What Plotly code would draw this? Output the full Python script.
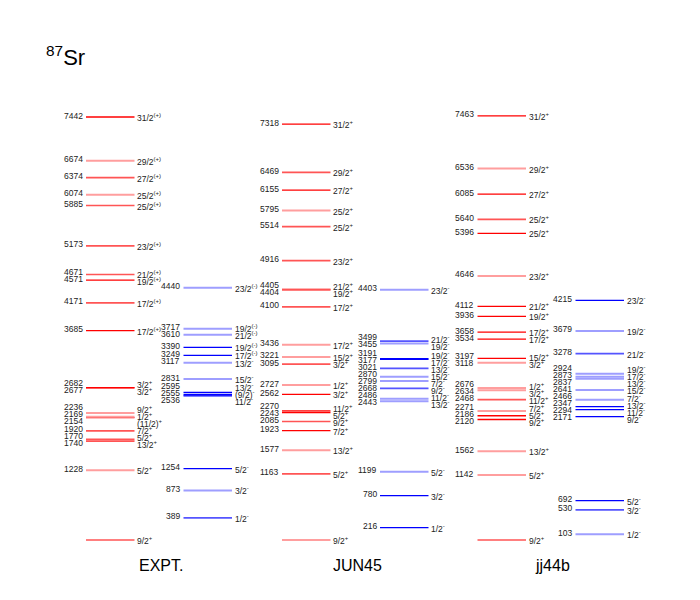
import plotly.graph_objects as go

# ---------------- data ----------------
nucleus_mass = "87"
nucleus_symbol = "Sr"
column_names = ["EXPT.", "JUN45", "jj44b"]

expt_pos_E = [7442, 6674, 6374, 6074, 5885, 5173, 4671, 4571, 4171, 3685, 2682, 2677,
              2236, 2169, 2154, 1920, 1770, 1740, 1228, 0]
expt_pos_J = ["31/2", "29/2", "27/2", "25/2", "25/2", "23/2", "21/2", "19/2", "17/2", "17/2",
              "3/2", "3/2", "9/2", "1/2", "(11/2)", "7/2", "5/2", "13/2", "5/2", "9/2"]
expt_pos_P = ["(+)"] * 10 + ["+"] * 10

expt_neg_E = [4440, 3717, 3610, 3390, 3249, 3117, 2831, 2595, 2555, 2536, 1254, 873, 389]
expt_neg_J = ["23/2", "19/2", "21/2", "19/2", "17/2", "13/2", "15/2", "13/2", "(9/2)", "11/2",
              "5/2", "3/2", "1/2"]
expt_neg_P = ["(-)"] * 5 + ["-"] * 8

jun_pos_E = [7318, 6469, 6155, 5795, 5514, 4916, 4405, 4404, 4100, 3436, 3221, 3095, 2727,
             2562, 2270, 2243, 2085, 1923, 1577, 1163, 0]
jun_pos_J = ["31/2", "29/2", "27/2", "25/2", "25/2", "23/2", "21/2", "19/2", "17/2", "17/2",
             "15/2", "3/2", "1/2", "3/2", "11/2", "5/2", "9/2", "7/2", "13/2", "5/2", "9/2"]
jun_pos_P = ["+"] * 21

jun_neg_E = [4403, 3499, 3455, 3191, 3177, 3021, 2870, 2799, 2668, 2486, 2443, 1199, 780, 216]
jun_neg_J = ["23/2", "21/2", "19/2", "19/2", "17/2", "13/2", "15/2", "7/2", "9/2", "11/2",
             "13/2", "5/2", "3/2", "1/2"]
jun_neg_P = ["-"] * 14

jj_pos_E = [7463, 6536, 6085, 5640, 5396, 4646, 4112, 3936, 3658, 3534, 3197, 3118, 2676,
            2634, 2468, 2271, 2186, 2120, 1562, 1142, 0]
jj_pos_J = ["31/2", "29/2", "27/2", "25/2", "25/2", "23/2", "21/2", "19/2", "17/2", "17/2",
            "15/2", "3/2", "1/2", "3/2", "11/2", "7/2", "5/2", "9/2", "13/2", "5/2", "9/2"]
jj_pos_P = ["+"] * 21

jj_neg_E = [4215, 3679, 3278, 2924, 2873, 2837, 2641, 2466, 2347, 2294, 2171, 692, 530, 103]
jj_neg_J = ["23/2", "19/2", "21/2", "19/2", "17/2", "13/2", "15/2", "7/2", "13/2", "11/2",
            "9/2", "5/2", "3/2", "1/2"]
jj_neg_P = ["-"] * 14

# line shade (0 = strong, 1 = medium, 2 = light) -- style, kept separate
expt_pos_shade = [0, 2, 1, 2, 1, 1, 1, 0, 1, 0, 0, 0, 2, 2, 0, 1, 1, 1, 2, 1]
expt_neg_shade = [2, 2, 2, 0, 0, 2, 2, 0, 0, 0, 0, 2, 1]
jun_pos_shade = [0, 1, 0, 2, 1, 1, 1, 1, 1, 2, 2, 1, 2, 0, 0, 0, 1, 0, 2, 1, 2]
jun_neg_shade = [2, 1, 2, 0, 0, 1, 2, 2, 1, 2, 2, 2, 0, 0]
jj_pos_shade = [0, 2, 0, 1, 0, 2, 0, 0, 0, 0, 0, 2, 2, 2, 1, 2, 0, 0, 2, 2, 1]
jj_neg_shade = [0, 2, 1, 2, 2, 2, 2, 2, 0, 0, 0, 0, 1, 2]

# ---------------- layout constants ----------------
OFF = 8                       # page body margin (px)
W, H = 700 - 2 * OFF, 600 - 2 * OFF
k = 423.0 / 7442.0            # px per keV
Y0 = 540.0 - OFF              # pixel row of E = 0 inside the plot
YMIN = -(H - Y0) / k
YMAX = Y0 / k
COL_X0 = [x - OFF for x in [86, 183.5, 282, 380, 477.5, 575.5]]
COL_W = 48.5
GAP = 7.0 / k
FONT = "Liberation Sans, Arial, sans-serif"
FS = 8.5

RED = ["#ff0000", "#ff5555", "#ff9e9e"]
BLUE = ["#0000ff", "#5555ff", "#9e9eff"]
WIDTHS = [1.3, 1.7, 2.0]

columns = [
    (expt_pos_E, expt_pos_J, expt_pos_P, expt_pos_shade, RED),
    (expt_neg_E, expt_neg_J, expt_neg_P, expt_neg_shade, BLUE),
    (jun_pos_E, jun_pos_J, jun_pos_P, jun_pos_shade, RED),
    (jun_neg_E, jun_neg_J, jun_neg_P, jun_neg_shade, BLUE),
    (jj_pos_E, jj_pos_J, jj_pos_P, jj_pos_shade, RED),
    (jj_neg_E, jj_neg_J, jj_neg_P, jj_neg_shade, BLUE),
]


def spread(values, gap):
    """Return label positions with minimum separation gap (cluster method)."""
    n = len(values)
    order = sorted(range(n), key=lambda i: values[i])
    clusters = [[i] for i in order]

    def center(cl):
        return sum(values[i] for i in cl) / len(cl)

    changed = True
    while changed:
        changed = False
        new = []
        for cl in clusters:
            if new:
                prev = new[-1]
                top = center(prev) + (len(prev) - 1) / 2 * gap
                bot = center(cl) - (len(cl) - 1) / 2 * gap
                if bot - top < gap - 1e-9:
                    new[-1] = prev + cl
                    changed = True
                    continue
            new.append(cl)
        clusters = new
    pos = [0.0] * n
    for cl in clusters:
        c = center(cl)
        m = len(cl)
        for j, i in enumerate(cl):
            pos[i] = c + (j - (m - 1) / 2) * gap
    return pos


fig = go.Figure()
annotations = []

for ci, (E, J, P, shade, pal) in enumerate(columns):
    x0 = COL_X0[ci]
    x1 = x0 + COL_W
    for s in range(3):
        xs, ys = [], []
        for e, sh in zip(E, shade):
            if sh == s:
                xs += [x0, x1, None]
                ys += [e, e, None]
        if xs:
            fig.add_trace(go.Scatter(x=xs, y=ys, mode="lines",
                                     line=dict(color=pal[s], width=WIDTHS[s]),
                                     hoverinfo="skip", showlegend=False))
    pos = spread(E, GAP)
    for e, j, p, yp in zip(E, J, P, pos):
        if e != 0:
            annotations.append(dict(x=x0 - 1.5, y=yp + 1.5 / k, xref="x", yref="y",
                                    text=str(e), showarrow=False, xanchor="right",
                                    yanchor="middle",
                                    font=dict(family=FONT, size=FS, color="#222")))
        annotations.append(dict(x=x1 + 0.5, y=yp - 0.5 / k, xref="x", yref="y",
                                text=f"{j}<sup>{p}</sup>", showarrow=False,
                                xanchor="left", yanchor="middle",
                                font=dict(family=FONT, size=FS, color="#222")))

# column titles
for gi, name in enumerate(column_names):
    xc = (COL_X0[2 * gi] + COL_X0[2 * gi + 1] + COL_W) / 2 + 2
    annotations.append(dict(x=xc, y=(Y0 - (565 - OFF)) / k, xref="x", yref="y", text=name,
                            showarrow=False, xanchor="center", yanchor="middle",
                            font=dict(family=FONT, size=16, color="#000")))

# nucleus label
annotations.append(dict(x=44 - OFF, y=(Y0 - (56 - OFF)) / k, xref="x", yref="y",
                        text=f"<sup>{nucleus_mass}</sup>{nucleus_symbol}",
                        showarrow=False, xanchor="left", yanchor="middle",
                        font=dict(family=FONT, size=22, color="#000")))

fig.update_layout(
    width=W, height=H,
    margin=dict(l=0, r=0, t=0, b=0),
    paper_bgcolor="white", plot_bgcolor="white",
    xaxis=dict(range=[0, W], visible=False, fixedrange=True),
    yaxis=dict(range=[YMIN, YMAX], visible=False, fixedrange=True),
    annotations=annotations,
    showlegend=False,
)

fig.write_html("out.html")
